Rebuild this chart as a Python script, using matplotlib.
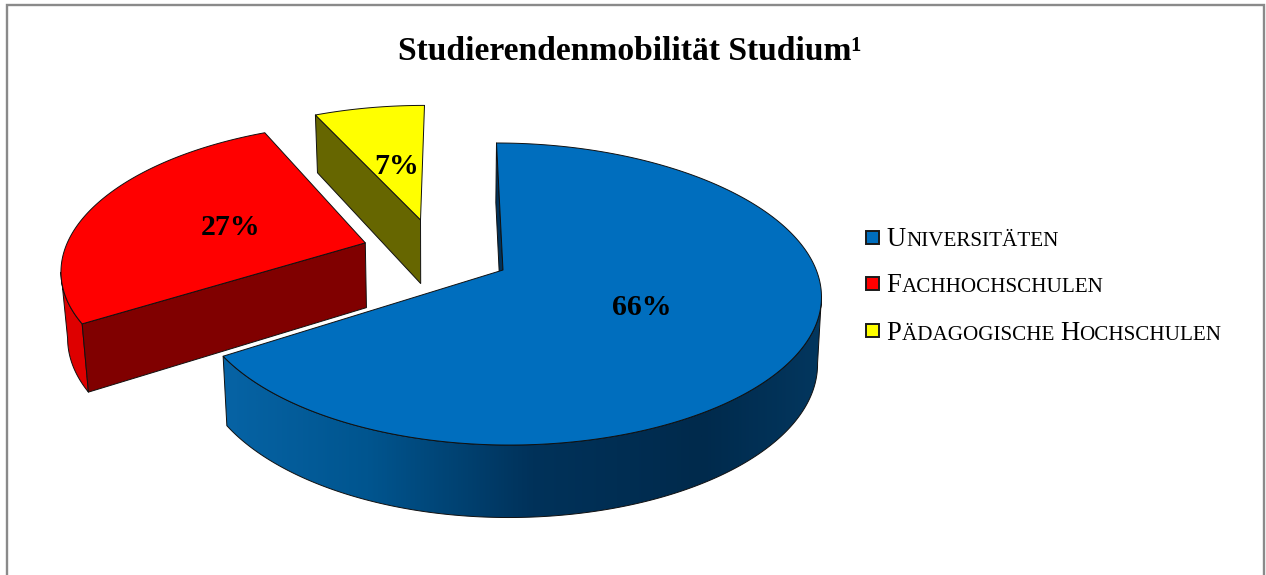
import numpy as np
import matplotlib
matplotlib.use("Agg")
import matplotlib.pyplot as plt
from matplotlib.patches import Polygon, Rectangle
from matplotlib.colors import LinearSegmentedColormap

title = "Studierendenmobilität Studium¹"
categories = ["Universitäten", "Fachhochschulen", "Pädagogische Hochschulen"]
values = [66, 27, 7]
colors_top = ["#006EBE", "#FF0000", "#FFFF00"]
colors_side = ["#00325A", "#800000", "#666600"]
colors_outer = [None, "#DE0000", "#666600"]
explode = [(0.0, 0.0), (-0.458, 0.19), (-0.276, 0.36)]
label_pos = [(642, 307.5), (231, 227.5), (396.5, 166)]
legend_runs = [
    [("U", 1), ("NIVERSITÄTEN", 0)],
    [("F", 1), ("ACHHOCHSCHULEN", 0)],
    [("P", 1), ("ÄDAGOGISCHE ", 0), ("H", 1), ("OCHSCHULEN", 0)],
]

W, H = 1266, 575
fig = plt.figure(figsize=(W / 100, H / 100), dpi=100)
ax = fig.add_axes([0, 0, 1, 1])
ax.axis("off")
SERIF = "Liberation Serif"

ax.plot([6.5, 6.5, 1263.5, 1263.5], [H + 5, 4.5, 4.5, H + 5], color="#8A8A8A", lw=1.7, solid_joinstyle="miter")

CX, CY, BX, AY, K, MX, SK = 503, 270, 307, 147.2, 0.159, 0.02, -6.5


def top_pt(X, Y):
    w = 1 + K * Y
    return np.column_stack([CX + BX * X / (w - MX * np.maximum(X, 0)) + SK * Y, CY - AY * Y / w])


def bot_pt(X, Y):
    p = top_pt(X, Y)
    dx = np.where(p[:, 0] < 430, (430 - p[:, 0]) * 0.018, (430 - p[:, 0]) * 0.01)
    return np.column_stack([p[:, 0] + dx, p[:, 1] + 66 - 6.5 * Y])


def rim(a0, a1, ox, oy, n=360):
    t = np.radians(np.linspace(a0, a1, n))
    return ox + np.sin(t), oy + np.cos(t)


blue_map = LinearSegmentedColormap.from_list(
    "wall", [(0.0, "#0764A6"), (0.25, "#00558F"), (0.52, "#00325A"), (0.8, "#002A4C"), (1.0, "#03375F")]
)
EDGE = dict(edgecolor="#101010", linewidth=0.7, joinstyle="round")

edges = np.cumsum([0] + values) / sum(values) * 360.0
for i in [2, 1, 0]:
    a0, a1 = edges[i], edges[i + 1]
    ox, oy = explode[i]
    X, Y = rim(a0, a1, ox, oy)
    ox_a, oy_a = np.array([ox]), np.array([oy])
    base = i * -10

    tp, bp = top_pt(X, Y), bot_pt(X, Y)
    # the outer wall shows only between the rightmost and the leftmost rim point
    imax, imin = int(np.argmax(tp[:, 0])), int(np.argmin(tp[:, 0]))
    lo = imax if imax < imin else 0
    hi = imin + 1
    wall = np.vstack([tp[lo:hi], bp[lo:hi][::-1]])
    if i == 0:
        grad = np.linspace(0, 1, 600).reshape(1, -1)
        im = ax.imshow(grad, cmap=blue_map, extent=(215, 825, 530, 130), aspect="auto", zorder=base + 1, interpolation="bilinear")
        clip = Polygon(wall, closed=True, transform=ax.transData, facecolor="none", edgecolor="none")
        ax.add_patch(clip)
        im.set_clip_path(clip)
        ax.add_patch(Polygon(wall, closed=True, facecolor="none", zorder=base + 1.5, **EDGE))
    elif i == 1:
        ax.add_patch(Polygon(wall, closed=True, facecolor=colors_outer[i], zorder=base + 1, **EDGE))

    # flat cut face turned to the viewer
    cut = np.array([tp[0], bp[0], bot_pt(ox_a, oy_a)[0], top_pt(ox_a, oy_a)[0]])
    ax.add_patch(Polygon(cut, closed=True, facecolor=colors_side[i], zorder=base + 2, **EDGE))

    # top face
    apex = top_pt(ox_a, oy_a)
    ax.add_patch(Polygon(np.vstack([apex, tp]), closed=True, facecolor=colors_top[i], zorder=base + 3, **EDGE))

    lx, ly = label_pos[i]
    ax.text(lx, ly, f"{values[i]}%", family=SERIF, fontweight="bold", fontsize=21.5,
            ha="center", va="center", color="black", zorder=20)

ax.set_xlim(0, W)
ax.set_ylim(H, 0)

ax.text(629.5, 60, title, family=SERIF, fontweight="bold", fontsize=24.2, ha="center", va="baseline", color="black")

# legend with small capitals
fig.canvas.draw()
rend = fig.canvas.get_renderer()
swatch_y = [237.5, 283.5, 330]
base_y = [245.5, 292.5, 339.5]
for i, runs in enumerate(legend_runs):
    ax.add_patch(Rectangle((865.5, swatch_y[i] - 6.5), 13, 13, facecolor=colors_top[i], edgecolor="#1A1A1A", lw=1.4, zorder=5))
    x = 886.5
    for s, big in runs:
        t = ax.text(x, base_y[i], s, family=SERIF, fontsize=19.2 if big else 15.2, va="baseline", ha="left", color="black")
        x += t.get_window_extent(rend).width + 0.4

fig.savefig("out.png", dpi=100)
